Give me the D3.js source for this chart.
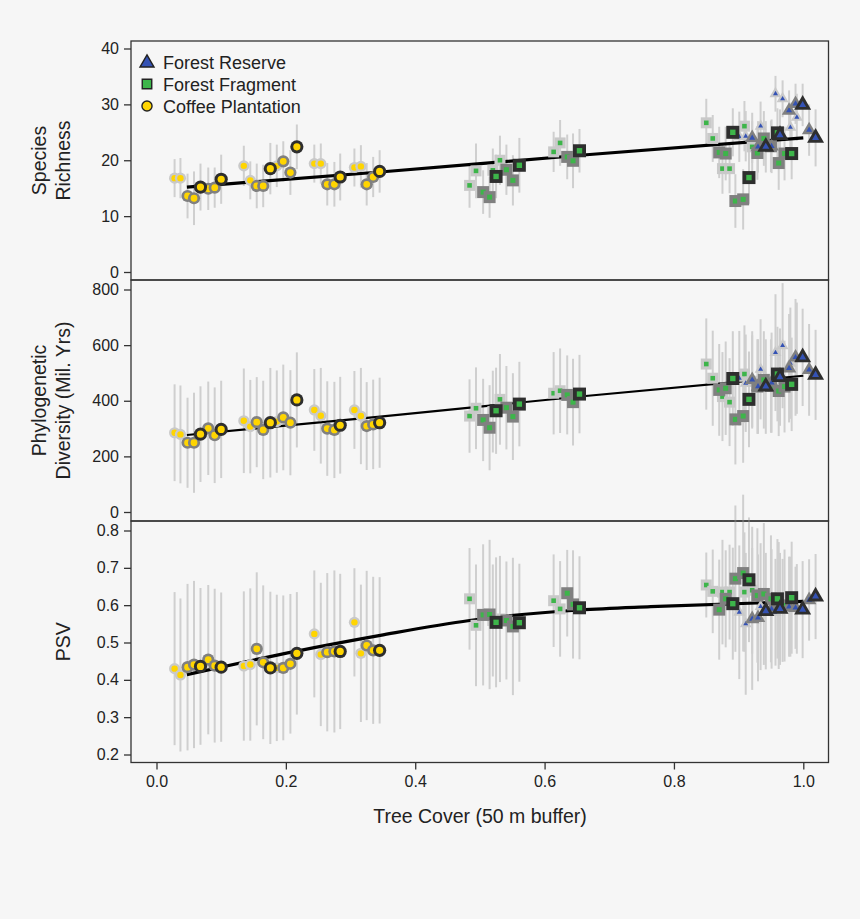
<!DOCTYPE html>
<html><head><meta charset="utf-8">
<script src="https://cdn.jsdelivr.net/npm/d3@7"></script>
<style>
body{margin:0;background:#f6f6f6}
text{font-family:"Liberation Sans",Arial,Helvetica,sans-serif;fill:#222}
</style>
</head><body>
<svg id="chart" width="860" height="919"></svg>
<script>
// ---------------- data ----------------
const xTicks = [0, 0.2, 0.4, 0.6, 0.8, 1.0];
const richTicks = [0, 10, 20, 30, 40];
const pdTicks = [0, 200, 400, 600, 800];
const psvTicks = [0.2, 0.3, 0.4, 0.5, 0.6, 0.7, 0.8];
const legendLabels = ["Forest Reserve", "Forest Fragment", "Coffee Plantation"];
const xTitle = "Tree Cover (50 m buffer)";
const richTitle = ["Species", "Richness"];
const pdTitle = ["Phylogenetic", "Diversity (Mil. Yrs)"];
const psvTitle = ["", "PSV"];

// Coffee Plantation
const coffeeX = [0.028,0.037,0.048,0.058,0.068,0.080,0.090,0.100,0.135,0.145,0.155,0.165,0.176,0.186,0.196,0.207,0.217,0.244,0.254,0.264,0.275,0.284,0.306,0.316,0.325,0.335,0.345];
const coffeeShade = [1,1,2,2,3,2,2,3,1,1,2,2,3,1,2,2,3,1,1,2,2,3,1,1,2,2,3];
const coffeeRich = [16.8,16.8,13.6,13.2,15.2,14.9,15.1,16.6,19.0,16.4,15.4,15.4,18.5,19.0,19.8,17.8,22.4,19.4,19.4,15.7,15.7,17.0,18.7,18.9,15.7,17.0,18.0];
const coffeeRichErr = [3.4,3.6,4.0,4.8,4.2,3.8,3.6,4.4,3.6,3.4,4.0,3.8,4.6,3.8,3.6,4.0,4.0,3.4,3.6,3.8,4.0,4.2,3.4,3.8,3.8,3.6,3.8];
const coffeePD = [285,279,249,249,280,301,276,297,328,307,323,295,321,325,340,321,403,367,346,300,295,312,367,345,309,315,321];
const coffeePDErr = [174,176,162,180,172,168,172,175,188,168,162,177,197,184,190,189,171,147,172,170,173,174,140,173,158,161,162];
const coffeePSV = [0.430,0.413,0.434,0.441,0.436,0.454,0.438,0.434,0.437,0.441,0.483,0.447,0.432,0.432,0.432,0.443,0.471,0.523,0.468,0.474,0.476,0.476,0.554,0.471,0.492,0.479,0.479];
const coffeePSVErr = [0.205,0.205,0.223,0.224,0.21,0.2,0.206,0.2,0.2,0.204,0.205,0.206,0.204,0.196,0.194,0.187,0.164,0.17,0.192,0.212,0.217,0.208,0.145,0.184,0.2,0.197,0.196];

// Forest Fragment
const fragX = [0.484,0.494,0.505,0.515,0.520,0.525,0.531,0.541,0.551,0.561,0.614,0.624,0.635,0.644,0.654,
               0.850,0.860,0.870,0.875,0.880,0.886,0.891,0.895,0.907,0.909,0.916,0.921,0.929,0.939,0.950,0.960,0.962,0.971,0.982];
const fragShade = [1,1,2,2,1,3,1,2,2,3,1,1,2,2,3,
                   1,1,2,1,2,1,3,2,2,1,3,1,2,2,2,3,2,2,3];
const fragRich = [15.5,18.1,14.3,13.4,18.2,17.1,20.0,18.3,16.4,19.1,21.5,23.1,20.6,19.9,21.7,
                  26.7,23.9,21.4,18.5,21.2,18.5,25.0,12.7,13.0,26.1,16.9,22.4,21.3,23.9,22.5,24.9,19.5,21.2,21.2];
const fragRichErr = [4.0,4.9,3.9,3.7,3.9,3.9,4.4,4.5,4.5,4.9,3.6,4.1,4.0,4.9,3.9,
                     4.3,4.2,4.6,4.5,4.8,4.4,4.3,4.8,5.4,4.5,4.7,4.6,4.8,4.9,4.6,4.4,4.8,4.8,4.6];
const fragPD = [345,373,331,303,361,364,405,375,343,388,427,436,421,395,424,
                532,481,439,415,445,395,480,333,345,496,405,470,451,475,453,496,435,451,459];
const fragPDErr = [132,147,148,153,147,155,163,150,156,152,148,152,142,156,141,
                   164,171,165,160,168,158,170,162,168,175,172,165,170,175,168,170,162,165,168];
const fragPSV = [0.617,0.546,0.574,0.575,0.559,0.554,0.563,0.559,0.543,0.553,0.612,0.590,0.632,0.602,0.593,
                 0.654,0.637,0.588,0.635,0.617,0.635,0.604,0.671,0.686,0.635,0.668,0.640,0.626,0.630,0.617,0.617,0.599,0.599,0.620];
const fragPSVErr = [0.136,0.163,0.189,0.2,0.15,0.174,0.169,0.158,0.184,0.158,0.124,0.128,0.116,0.145,0.138,
                    0.087,0.112,0.134,0.14,0.13,0.127,0.15,0.196,0.21,0.16,0.167,0.17,0.18,0.19,0.17,0.16,0.17,0.15,0.15];

// Forest Reserve
const resX = [0.901,0.911,0.921,0.930,0.934,0.942,0.951,0.957,0.964,0.968,0.978,0.980,0.988,0.990,0.999,1.009,1.019];
const resShade = [1,1,2,2,1,3,2,1,3,1,2,1,2,1,3,2,3];
const resRich = [24.2,24.3,24.0,22.4,26.1,22.4,22.5,31.9,24.5,31.0,28.9,25.9,30.1,27.7,29.9,25.4,24.0];
const resRichErr = [4.5,4.5,4.5,4.6,4.4,4.6,4.8,3.2,4.6,3.3,3.6,4.4,3.6,4.2,3.8,4.6,5.1];
const resPD = [481,463,475,451,513,451,465,573,485,598,517,535,556,553,556,511,493];
const resPDErr = [170,175,175,170,180,170,180,210,175,225,195,200,210,200,175,165,162];
const resPSV = [0.581,0.550,0.563,0.566,0.596,0.584,0.590,0.581,0.590,0.586,0.596,0.596,0.593,0.590,0.588,0.614,0.623];
const resPSVErr = [0.179,0.19,0.19,0.17,0.17,0.156,0.16,0.143,0.15,0.138,0.134,0.134,0.11,0.12,0.13,0.109,0.114];

// fitted curves
const richFitX = [0.047, 0.346, 0.655, 1.0];
const richFitY = [15.2, 17.9, 20.9, 24.0];
const pdFitX = [0.047, 0.346, 0.655, 1.0];
const pdFitY = [277, 343, 415, 490];
const psvFitX = [0.047, 0.217, 0.346, 0.484, 0.655, 0.764, 1.0];
const psvFitY = [0.414, 0.477, 0.519, 0.559, 0.587, 0.596, 0.610];

// ---------------- drawing ----------------
const svg = d3.select("#chart");
svg.append("rect").attr("width", 860).attr("height", 919).attr("fill", "#f6f6f6");

const left = 131, right = 828.5;
const x = d3.scaleLinear().domain([0, 1]).range([156.5, 803.3]);

const panels = [
  {key: "rich", top: 41, bot: 280, dom: [0, 40], rng: [272, 48.5], ticks: richTicks, fmt: d3.format("d"), title: richTitle, lw: 3.2, fx: richFitX, fy: richFitY},
  {key: "pd", top: 280, bot: 521, dom: [0, 800], rng: [512, 289.5], ticks: pdTicks, fmt: d3.format("d"), title: pdTitle, lw: 2.1, fx: pdFitX, fy: pdFitY},
  {key: "psv", top: 521, bot: 762.5, dom: [0.2, 0.8], rng: [754.5, 530.5], ticks: psvTicks, fmt: d3.format(".1f"), title: psvTitle, lw: 3.2, fx: psvFitX, fy: psvFitY}
];

const groups = [
  {name: "coffee", type: d3.symbolCircle, fill: "#FFD500", x: coffeeX, shade: coffeeShade,
   rich: coffeeRich, richErr: coffeeRichErr, pd: coffeePD, pdErr: coffeePDErr, psv: coffeePSV, psvErr: coffeePSVErr},
  {name: "frag", type: d3.symbolSquare, fill: "#3DB54A", x: fragX, shade: fragShade,
   rich: fragRich, richErr: fragRichErr, pd: fragPD, pdErr: fragPDErr, psv: fragPSV, psvErr: fragPSVErr},
  {name: "res", type: d3.symbolTriangle, fill: "#3452B4", x: resX, shade: resShade,
   rich: resRich, richErr: resRichErr, pd: resPD, pdErr: resPDErr, psv: resPSV, psvErr: resPSVErr}
];

const haloColor = {1: "#c9c9c9", 2: "#808080", 3: "#2e2e2e"};
// outer / inner dimensions per marker type and shade
function areas(type, shade) {
  if (type === d3.symbolCircle) {
    const ro = [0, 5.6, 6.1, 6.6][shade], ri = [0, 3.2, 3.4, 3.6][shade];
    return [Math.PI * ro * ro, Math.PI * ri * ri];
  }
  if (type === d3.symbolSquare) {
    const so = [0, 11, 12, 13][shade], si = [0, 4.6, 5, 5.4][shade];
    return [so * so, si * si];
  }
  const so = [0, 12, 14.5, 17][shade], si = [0, 5, 6, 7][shade];
  const k = Math.sqrt(3) / 4;
  return [k * so * so, k * si * si];
}

panels.forEach(p => {
  const y = d3.scaleLinear().domain(p.dom).range(p.rng);
  const g = svg.append("g");

  const pts = [];
  groups.forEach(gr => {
    gr.x.forEach((xv, i) => {
      pts.push({x: xv, v: gr[p.key][i], e: gr[p.key + "Err"][i], shade: gr.shade[i], type: gr.type, fill: gr.fill});
    });
  });

  // error bars
  g.append("g").selectAll("line").data(pts).join("line")
    .attr("x1", d => x(d.x)).attr("x2", d => x(d.x))
    .attr("y1", d => y(d.v - d.e)).attr("y2", d => y(d.v + d.e))
    .attr("stroke", "#cfcfcf").attr("stroke-width", 2);

  // fitted line
  const fit = p.fx.map((xv, i) => [xv, p.fy[i]]);
  g.append("path").datum(fit)
    .attr("d", d3.line().x(d => x(d[0])).y(d => y(d[1])).curve(d3.curveMonotoneX))
    .attr("fill", "none").attr("stroke", "#000").attr("stroke-width", p.lw).attr("stroke-linecap", "butt");

  // points (light first, dark on top)
  const sorted = pts.slice().sort((a, b) => a.shade - b.shade);
  const pg = g.append("g").selectAll("g").data(sorted).join("g")
    .attr("transform", d => `translate(${x(d.x)},${y(d.v)})`);
  pg.append("path").attr("d", d => d3.symbol().type(d.type).size(areas(d.type, d.shade)[0])())
    .attr("fill", d => haloColor[d.shade]);
  pg.append("path").attr("d", d => d3.symbol().type(d.type).size(areas(d.type, d.shade)[1])())
    .attr("fill", d => d.fill);

  // box
  svg.append("rect").attr("x", left).attr("y", p.top).attr("width", right - left).attr("height", p.bot - p.top)
    .attr("fill", "none").attr("stroke", "#333").attr("stroke-width", 1.3);

  // y axis
  const ax = svg.append("g").attr("transform", `translate(${left},0)`)
    .call(d3.axisLeft(y).tickValues(p.ticks).tickFormat(p.fmt).tickSize(7).tickPadding(5));
  ax.select(".domain").remove();
  ax.selectAll(".tick line").attr("stroke", "#333").attr("stroke-width", 1.3);
  ax.selectAll(".tick text").attr("font-size", 16).attr("fill", "#222")
    .style("font-family", "'Liberation Sans', Arial, sans-serif");

  // y titles
  const cy = (p.top + p.bot) / 2;
  [40, 63.5].forEach((cx, j) => {
    if (!p.title[j]) return;
    svg.append("text").attr("transform", `translate(${cx},${cy}) rotate(-90)`)
      .attr("text-anchor", "middle").attr("dy", "0.33em").attr("font-size", 19.5)
      .text(p.title[j]);
  });
});

// x axis
const xa = svg.append("g").attr("transform", "translate(0,762.5)")
  .call(d3.axisBottom(x).tickValues(xTicks).tickFormat(d3.format(".1f")).tickSize(7).tickPadding(6));
xa.select(".domain").remove();
xa.selectAll(".tick line").attr("stroke", "#333").attr("stroke-width", 1.3);
xa.selectAll(".tick text").attr("font-size", 16).attr("fill", "#222")
  .style("font-family", "'Liberation Sans', Arial, sans-serif");

svg.append("text").attr("x", 480).attr("y", 823).attr("text-anchor", "middle")
  .attr("font-size", 19.5).text(xTitle);

// legend
const legTypes = [d3.symbolTriangle, d3.symbolSquare, d3.symbolCircle];
const legFills = ["#3452B4", "#3DB54A", "#FFD500"];
const legSizes = [85, 90, 80];
const lg = svg.append("g");
legendLabels.forEach((lab, i) => {
  const cy = 62 + i * 22;
  lg.append("path").attr("transform", `translate(147,${cy + (i === 0 ? 1 : 0)})`)
    .attr("d", d3.symbol().type(legTypes[i]).size(legSizes[i])())
    .attr("fill", legFills[i]).attr("stroke", "#222").attr("stroke-width", 1.4);
  lg.append("text").attr("x", 163).attr("y", cy + 6.5).attr("font-size", 18).text(lab);
});
</script>
</body></html>
